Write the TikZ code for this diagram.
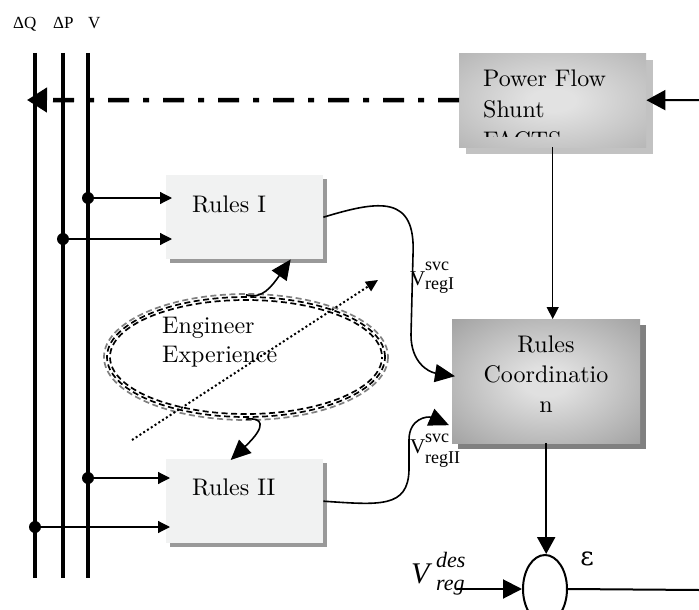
\documentclass[tikz,border=0pt]{standalone}
\usepackage{fontspec}
\setmainfont{lmroman10-regular}[Extension=.otf]
\newfontfamily\timesf{Liberation Serif}
\newfontfamily\dvs{DejaVu Serif}
\usetikzlibrary{arrows.meta,shadows,calc,shapes.geometric}
\definecolor{lightfill}{HTML}{F1F2F2}
\definecolor{shadowA}{HTML}{999999}
\definecolor{shadowB}{HTML}{C2C2C2}
\definecolor{shadowC}{HTML}{808080}
\definecolor{pfin}{HTML}{E2E2E2}
\definecolor{pfout}{HTML}{A4A4A4}
\definecolor{rcin}{HTML}{E0E0E0}
\definecolor{rcout}{HTML}{888888}
\pgfdeclareradialshading{pfshade}{\pgfpoint{0bp}{0bp}}{color(0bp)=(pfin); color(6bp)=(pfin); color(48bp)=(pfout); color(80bp)=(pfout)}
\pgfdeclareradialshading{rcshade}{\pgfpoint{0bp}{0bp}}{color(0bp)=(rcin); color(6bp)=(rcin); color(48bp)=(rcout); color(80bp)=(rcout)}
\begin{document}
\begin{tikzpicture}[x=1pt,y=-1pt,
  bus/.style={line width=4pt},
  conn/.style={line width=1.2pt,-{Triangle[length=12pt,width=12pt]}},
  jdot/.style={circle,fill=black,inner sep=0pt,minimum size=12pt},
  curv/.style={line width=1.6pt,-{Triangle[length=20pt,width=18pt]}},
  lightbox/.style={fill=lightfill,minimum width=157pt,minimum height=84pt,anchor=north west,inner sep=0pt,
    drop shadow={shadow xshift=4pt,shadow yshift=-4pt,fill=shadowA,opacity=1}},
  pfbox/.style={shading=pfshade,minimum width=187pt,minimum height=94pt,anchor=north west,inner sep=0pt,
    drop shadow={shadow xshift=7pt,shadow yshift=-7pt,fill=shadowB,opacity=1}},
  rcbox/.style={shading=rcshade,minimum width=188pt,minimum height=124pt,anchor=north west,inner sep=0pt,
    drop shadow={shadow xshift=6pt,shadow yshift=-6pt,fill=shadowC,opacity=1}},
  boxtext/.style={inner sep=0pt,font=\fontsize{24}{30}\selectfont},
  buslbl/.style={inner sep=0pt,anchor=base west,font=\timesf\fontsize{17}{17}\selectfont},
  vbig/.style={inner sep=0pt,anchor=base west,font=\timesf\fontsize{21}{21}\selectfont},
  vscr/.style={inner sep=0pt,anchor=base west,font=\timesf\fontsize{18}{18}\selectfont},
  ring/.style={line width=1.7pt,dash pattern=on 6pt off 3.5pt}]
\useasboundingbox (0,0) rectangle (699,610);

% bus labels
\node[buslbl] (lq) at (13,29) {ΔQ};
\node[buslbl] (lp) at (53,29) {ΔP};
\node[buslbl] (lv) at (88,29) {V};

% bus lines
\coordinate (qT) at (35,53);  \coordinate (qB) at (35,578);
\coordinate (pT) at (63,53);  \coordinate (pB) at (63,578);
\coordinate (vT) at (88,53);  \coordinate (vB) at (88,578);
\draw[bus] (qT) -- (qB);
\draw[bus] (pT) -- (pB);
\draw[bus] (vT) -- (vB);

% boxes
\node[lightbox] (r1) at (166,175) {};
\node[lightbox] (r2) at (166,459) {};
\node[boxtext,anchor=base west] (r1t) at (192,212) {Rules I};
\node[boxtext,anchor=base west] (r2t) at (192,495) {Rules II};

% labels of the curved signals (drawn before the box that covers them)
\node[vbig] (v1) at (410,285) {V};
\node[vscr] (v1s) at (425,270) {svc};
\node[vscr] (v1r) at (425,289) {regI};
\node[vbig] (v2) at (410,453) {V};
\node[vscr] (v2s) at (425,442) {svc};
\node[vscr] (v2r) at (425,463) {regII};

\node[pfbox] (pf) at (459,53) {};
\begin{scope}
  \clip (459,53) rectangle (646,136);
  \node[boxtext,anchor=north west,align=left,font=\fontsize{24}{31}\selectfont] (pft) at (483,70) {Power Flow\\Shunt\\FACTS};
\end{scope}
\node[rcbox] (rc) at (452,319) {};
\node[boxtext,anchor=north,align=center,font=\fontsize{24}{30}\selectfont] (rct) at (546,336) {Rules\\Coordinatio\\n};

% junctions and inputs
\node[jdot] (d1) at (88,198) {};
\node[jdot] (d2) at (63,239) {};
\node[jdot] (d3) at (88,478) {};
\node[jdot] (d4) at (35,527) {};
\draw[conn] (d1.center) -- ($(d1 -| r1.west)+(6,0)$);
\draw[conn] (d2.center) -- ($(d2 -| r1.west)+(6,0)$);
\draw[conn] (d3.center) -- ($(d3 -| r2.west)+(4,0)$);
\draw[conn] (d4.center) -- ($(d4 -| r2.west)+(4,0)$);

% dash-dot feedback line
\coordinate (dashend) at (27,100);
\draw[line width=4.5pt,dash pattern=on 21pt off 14pt on 6pt off 14pt,-{Triangle[length=20pt,width=24pt]}] (pf.west) -- (dashend);
\coordinate (rin) at (699,100);
\draw[line width=2pt,-{Triangle[length=19pt,width=20pt]}] (rin) -- (pf.east);
\draw[line width=1.3pt,-{Triangle[length=12pt,width=12pt]}] (pf.south) -- (pf.south |- rc.north);

% engineer experience ellipse
\node[ellipse,minimum width=282pt,minimum height=124pt,inner sep=0pt] (ee) at (246,357) {};
\draw[ring,gray] (ee.center) ellipse [x radius=142, y radius=63];
\draw[ring,black,dash phase=2pt] (ee.center) ellipse [x radius=139, y radius=60];
\draw[ring,black,dash phase=4pt] (ee.center) ellipse [x radius=136, y radius=57];
\node[boxtext,anchor=north west,align=left,font=\fontsize{24}{29}\selectfont] (eng) at (162,317) {Engineer\\Experience};

\draw[curv] (ee.north) .. controls (262,300) and (272,286) .. ($(r1.south)+(46,0)$);
\draw[curv] (ee.south) .. controls (262,417) and (268,425) .. ($(r2.north)+(-14,1)$);

% dotted arrow
\coordinate (dotA) at (132,440);
\coordinate (dotB) at (378,280);
\draw[line width=2pt,dash pattern=on 2pt off 2.5pt,-{Triangle[length=12pt,width=11pt]}] (dotA) -- (dotB);

% curved outputs to coordination
\draw[curv] (r1.east) .. controls (380,200) and (416,195) .. (413,255) -- (411,335) .. controls (411,362) and (428,372) .. ($(rc.west)+(3,-5)$);
\draw[curv] (r2.east) .. controls (380,505) and (408,508) .. (409,470) -- (409,440) .. controls (409,418) and (428,416) .. ($(rc.west)+(-3,44)$);

% summing junction
\node[ellipse,draw,line width=2pt,minimum width=44pt,minimum height=68pt,inner sep=0pt] (sum) at (545,589) {};
\draw[line width=2.2pt,-{Triangle[length=17pt,width=18pt]}] (rc.south) -- (rc.south |- sum.north);
\node[inner sep=0pt,font=\dvs\fontsize{26}{26}\selectfont] (eps) at (587,559) {ε};

\node[inner sep=0pt,anchor=base west,font=\timesf\itshape\fontsize{30}{30}\selectfont] (vd) at (411,583) {V};
\node[inner sep=0pt,anchor=base west,font=\timesf\itshape\fontsize{22}{22}\selectfont] (vds) at (436,567) {des};
\node[inner sep=0pt,anchor=base west,font=\timesf\itshape\fontsize{22}{22}\selectfont] (vdr) at (436,590) {reg};
\coordinate (vin) at (457,589);
\draw[line width=2pt,-{Triangle[length=19pt,width=19pt]}] (vin) -- (sum.west);
\coordinate (out) at (699,590);
\draw[line width=2pt] (sum.east) -- (out);
\end{tikzpicture}
\end{document}
